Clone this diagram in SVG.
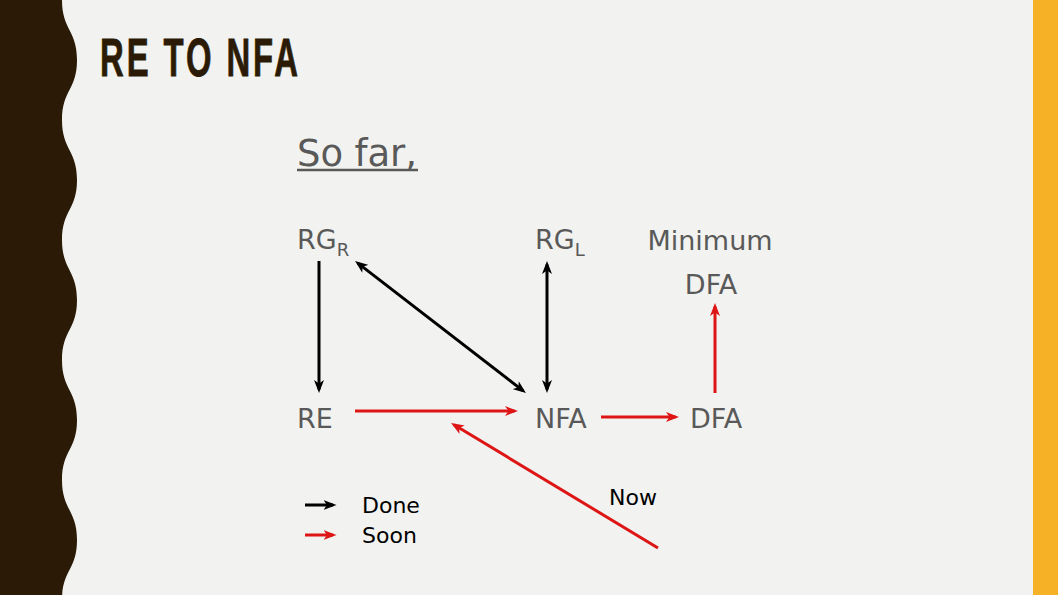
<svg xmlns="http://www.w3.org/2000/svg" width="1058" height="595" viewBox="0 0 1058 595">
<style>
.t{font-family:"DejaVu Sans","Verdana",sans-serif;fill:#595959;font-size:27px}
.lg{font-family:"DejaVu Sans","Verdana",sans-serif;fill:#000;font-size:22px}
.k{stroke:#000;stroke-width:3;fill:none}
.r{stroke:#DD1515;stroke-width:3;fill:none}
.sub{font-size:18px}
</style>
<defs>
<marker id="ab" viewBox="0 0 13 10" markerWidth="13" markerHeight="10" refX="9.5" refY="5" markerUnits="userSpaceOnUse" orient="auto-start-reverse"><path d="M0,0 L13,5 L0,10 L3.5,5 z" fill="#000"/></marker>
<marker id="ar" viewBox="0 0 13 10" markerWidth="13" markerHeight="10" refX="9.5" refY="5" markerUnits="userSpaceOnUse" orient="auto-start-reverse"><path d="M0,0 L13,5 L0,10 L3.5,5 z" fill="#DD1515"/></marker>
</defs>
<rect width="1058" height="595" fill="#F2F2F0"/>
<rect x="1033" y="0" width="25" height="595" fill="#F6B127"/>
<path d="M0,0 L62,0 C62,30 77,30 77,60 C77,90 62,90 62,120 C62,150 77,150 77,180 C77,210 62,210 62,240 C62,270 77,270 77,300 C77,330 62,330 62,360 C62,390 77,390 77,420 C77,450 62,450 62,480 C62,510 77,510 77,540 C77,570 62,570 62,600 L0,600 z" fill="#2B1B06"/>
<text transform="translate(100,76) scale(0.62,1)" x="0" y="0" font-family="Liberation Sans, Arial, sans-serif" font-weight="bold" font-size="53" letter-spacing="4.7" fill="#2B1B06" stroke="#2B1B06" stroke-width="0.8">RE TO NFA</text>
<g id="sofar">
<text x="297" y="166" class="t" style="font-size:37px" textLength="120" lengthAdjust="spacing">So far,</text>
<line x1="297" y1="170" x2="418" y2="170" stroke="#595959" stroke-width="2.5"/>
</g>
<g id="rgr"><text class="t" x="297" y="249">RG<tspan class="sub" dy="7">R</tspan></text></g>
<g id="rgl"><text class="t" x="535" y="249">RG<tspan class="sub" dy="7">L</tspan></text></g>
<g id="mindfa"><text class="t" x="710" y="250" text-anchor="middle">Minimum</text><text class="t" x="711" y="294" text-anchor="middle">DFA</text></g>
<g id="re"><text class="t" x="297" y="428">RE</text></g>
<g id="nfa"><text class="t" x="535" y="428">NFA</text></g>
<g id="dfa"><text class="t" x="690" y="428">DFA</text></g>
<g id="now"><text class="lg" x="609" y="505">Now</text></g>
<g id="legend">
<line class="k" x1="305" y1="505" x2="333" y2="505" marker-end="url(#ab)"/>
<line class="r" x1="305" y1="535" x2="333" y2="535" marker-end="url(#ar)"/>
<text class="lg" x="362" y="513">Done</text>
<text class="lg" x="362" y="543">Soon</text>
</g>
<g id="connectors">
<line class="k" x1="319" y1="261" x2="319" y2="389.5" marker-end="url(#ab)"/>
<line class="k" x1="357.8" y1="263.1" x2="523.2" y2="390.9" marker-start="url(#ab)" marker-end="url(#ab)"/>
<line class="k" x1="547" y1="264.5" x2="547" y2="389.5" marker-start="url(#ab)" marker-end="url(#ab)"/>
<line class="r" x1="355" y1="411" x2="514.5" y2="411" marker-end="url(#ar)"/>
<line class="r" x1="658" y1="548" x2="454" y2="424.8" marker-end="url(#ar)"/>
<line class="r" x1="601" y1="417" x2="675.5" y2="417" marker-end="url(#ar)"/>
<line class="r" x1="715" y1="393" x2="715" y2="306.5" marker-end="url(#ar)"/>
</g>
</svg>
